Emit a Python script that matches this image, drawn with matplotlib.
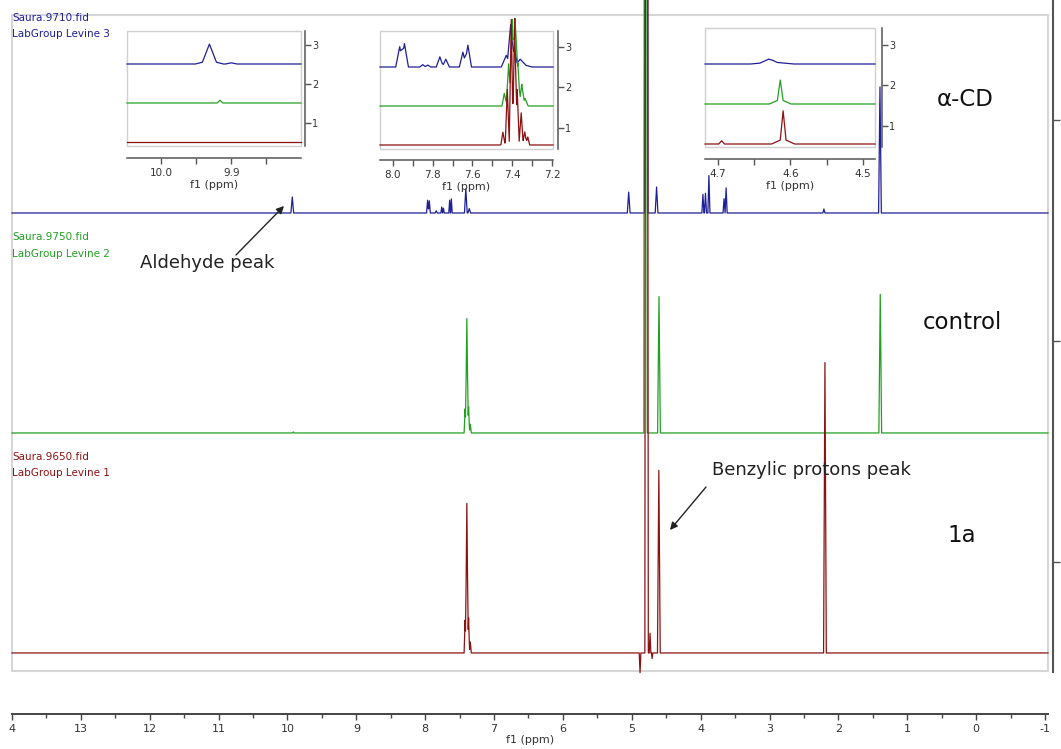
import numpy as np
import matplotlib
matplotlib.use("Agg")
import matplotlib.pyplot as plt
from matplotlib.patches import Rectangle

W, H = 1061, 749

# spectrum colours
blue = "#1f1f96"
green = "#22a022"
red = "#8c1212"

# stacked offsets of the three spectra (red = 1a, green = control, blue = a-CD)
offsets = {"blue": 2.0, "green": 1.0, "red": 0.0}

# main spectrum peaks: (ppm, height, half base width)
# heights are in units of the spacing between stacked traces
blue_peaks = [
    (9.93, 0.073, 0.02),
    (7.965, 0.058, 0.015), (7.94, 0.055, 0.015), (7.84, 0.010, 0.015),
    (7.76, 0.027, 0.012), (7.735, 0.022, 0.012),
    (7.645, 0.058, 0.012), (7.62, 0.064, 0.012),
    (7.41, 0.11, 0.02), (7.36, 0.02, 0.02),
    (5.045, 0.095, 0.02), (4.79, 10.0, 0.025), (4.64, 0.118, 0.02),
    (3.967, 0.085, 0.015), (3.93, 0.09, 0.015), (3.88, 0.17, 0.015),
    (3.66, 0.065, 0.015), (3.63, 0.114, 0.015),
    (2.21, 0.018, 0.015), (1.396, 0.573, 0.02),
]
green_peaks = [
    (9.916, 0.005, 0.01),
    (7.42, 0.11, 0.015), (7.395, 0.52, 0.02), (7.37, 0.12, 0.015), (7.345, 0.04, 0.015),
    (4.80, 10.0, 0.025), (4.605, 0.62, 0.02), (1.392, 0.63, 0.02),
]
red_peaks = [
    (7.42, 0.15, 0.015), (7.395, 0.68, 0.02), (7.37, 0.16, 0.015), (7.345, 0.05, 0.015),
    (4.88, -0.09, 0.012), (4.785, 10.0, 0.025), (4.735, 0.09, 0.012), (4.705, -0.025, 0.01),
    (4.607, 0.83, 0.02), (2.195, 1.32, 0.02),
]

main_ticks = list(range(14, -2, -1))
main_tick_labels = ["4", "13", "12", "11", "10", "9", "8", "7", "6", "5", "4", "3", "2", "1", "0", "-1"]
main_minor = [t - 0.5 for t in main_ticks[:-1]]

# inset 1: aldehyde region
in1_blue = [(9.931, 0.42, 0.010), (9.931, 0.09, 0.02), (9.90, 0.03, 0.008)]
in1_green = [(9.916, 0.07, 0.004)]
in1_red = []
in1_ticks = [10.0, 9.9]
in1_minor = [9.95, 9.85]

# inset 2: aromatic region
in2_blue = [
    (7.966, 0.52, 0.02), (7.942, 0.60, 0.02),
    (7.85, 0.06, 0.015), (7.825, 0.05, 0.015),
    (7.764, 0.26, 0.018), (7.734, 0.20, 0.018),
    (7.648, 0.38, 0.018), (7.623, 0.56, 0.018),
    (7.43, 0.30, 0.025), (7.408, 1.05, 0.015), (7.39, 0.5, 0.015),
    (7.36, 0.20, 0.03), (7.33, 0.04, 0.03),
]
in2_green = [
    (7.44, 0.30, 0.012), (7.418, 1.0, 0.012), (7.40, 2.1, 0.012), (7.385, 2.1, 0.012),
    (7.372, 1.0, 0.012), (7.352, 0.50, 0.012), (7.335, 0.18, 0.015), (7.39, 0.15, 0.06),
]
in2_red = [
    (7.447, 0.30, 0.01), (7.425, 1.35, 0.01), (7.405, 3.1, 0.01), (7.388, 3.1, 0.01),
    (7.375, 1.3, 0.01), (7.355, 0.75, 0.01), (7.337, 0.30, 0.01), (7.322, 0.2, 0.01),
    (7.39, 0.15, 0.07),
]
in2_ticks = [8.0, 7.8, 7.6, 7.4, 7.2]
in2_minor = [7.9, 7.7, 7.5, 7.3]

# inset 3: benzylic region
in3_blue = [(4.630, 0.08, 0.012), (4.625, 0.05, 0.03)]
in3_green = [(4.614, 0.48, 0.004), (4.614, 0.12, 0.015)]
in3_red = [(4.610, 0.70, 0.004), (4.610, 0.13, 0.016), (4.695, 0.08, 0.004)]
in3_ticks = [4.7, 4.6, 4.5]
in3_minor = [4.65, 4.55]


def trace(peaks, lo, hi):
    # sum of triangular lines, evaluated at every break point
    xs = [lo, hi]
    for c, h, w in peaks:
        xs += [c - w, c, c + w]
    xs = np.unique(np.clip(xs, lo, hi))
    ys = np.zeros_like(xs)
    for c, h, w in peaks:
        ys += h * np.clip(1 - np.abs(xs - c) / w, 0, None)
    return xs, ys


def fx(x):
    return x / W


def fy(y):
    return 1 - y / H


fig = plt.figure(figsize=(W / 100, H / 100), dpi=100)

# main stacked spectrum
ax = fig.add_axes([fx(12), 1 - 671 / H, (1048 - 12) / W, (671 - 15) / H])
ax.set_xlim(14, -1.044)
ax.set_ylim(-0.082, 2.9)
for name, peaks, col in [("blue", blue_peaks, blue), ("green", green_peaks, green), ("red", red_peaks, red)]:
    xs, ys = trace(peaks, -1.044, 14)
    ax.plot(xs, ys + offsets[name], color=col, lw=0.9, clip_on=False)

for s in ["top", "left", "right"]:
    ax.spines[s].set_visible(False)
ax.spines["bottom"].set_position(("outward", 31))
ax.spines["bottom"].set_color("#444444")
ax.spines["bottom"].set_linewidth(1.4)
ax.add_patch(Rectangle((0, 0), 1, 1, transform=ax.transAxes, fill=False,
                       ec="#d6d6d6", lw=1.5, clip_on=False))
ax.set_yticks([])
ax.set_xticks(main_ticks, main_tick_labels)
ax.set_xticks(main_minor, minor=True)
ax.tick_params(axis="x", which="major", length=4, width=1, color="#444444",
               labelsize=8, pad=3, labelcolor="#333333")
ax.tick_params(axis="x", which="minor", length=3, width=1, color="#444444")
ax.set_xlabel("f1 (ppm)", fontsize=8, labelpad=1, color="#333333")

# right-hand offset scale of the main plot (its labels fall off the edge)
axr = fig.add_axes([fx(1052), 1 - 672 / H, 1 / W, 672 / H])
axr.patch.set_visible(False)
for s in ["top", "left", "bottom"]:
    axr.spines[s].set_visible(False)
axr.spines["right"].set_color("#555555")
axr.spines["right"].set_linewidth(1.5)
axr.set_ylim(0.502, 3.543)
axr.set_xticks([])
axr.set_yticks([1, 2, 3])
axr.tick_params(axis="y", left=False, labelleft=False, right=True, labelright=False,
                length=5, width=1, color="#555555")


def inset(box, xlim, ylim, rlim, ticks, minor, traces, out_b, out_r):
    x0, y0, x1, y1 = box
    a = fig.add_axes([fx(x0), 1 - y1 / H, (x1 - x0) / W, (y1 - y0) / H])
    a.set_xlim(*xlim)
    a.set_ylim(*ylim)
    lo, hi = min(xlim), max(xlim)
    for name, peaks, col in traces:
        xs, ys = trace(peaks, lo, hi)
        a.plot(xs, ys + offsets[name], color=col, lw=0.9, clip_on=False)
    for s in ["top", "left", "right"]:
        a.spines[s].set_visible(False)
    a.spines["bottom"].set_position(("outward", out_b))
    a.spines["bottom"].set_color("#555555")
    a.spines["bottom"].set_linewidth(1.1)
    a.add_patch(Rectangle((0, 0), 1, 1, transform=a.transAxes, fill=False,
                          ec="#d0d0d0", lw=1.0, clip_on=False))
    a.set_yticks([])
    a.set_xticks(ticks, [f"{t:.1f}" for t in ticks])
    a.set_xticks(minor, minor=True)
    a.tick_params(axis="x", which="both", length=4, width=1, color="#555555",
                  labelsize=7.5, pad=3, labelcolor="#333333")
    a.set_xlabel("f1 (ppm)", fontsize=8, labelpad=2, color="#333333")
    r = a.twinx()
    for s in ["top", "left", "bottom"]:
        r.spines[s].set_visible(False)
    r.spines["right"].set_position(("outward", out_r))
    r.spines["right"].set_color("#555555")
    r.spines["right"].set_linewidth(1.1)
    r.set_ylim(*rlim)
    r.set_yticks([1, 2, 3], ["1", "2", "3"])
    r.tick_params(axis="y", length=4, width=1, color="#555555", labelsize=7,
                  pad=1, labelcolor="#333333")
    return a


inset((127, 31, 301, 146), (10.048, 9.801), (-0.103, 2.846), (0.41, 3.36),
      in1_ticks, in1_minor,
      [("blue", in1_blue, blue), ("green", in1_green, green), ("red", in1_red, red)], 8.6, 2.9)
inset((380, 31, 553, 149), (8.065, 7.195), (-0.103, 2.923), (0.481, 3.395),
      in2_ticks, in2_minor,
      [("blue", in2_blue, blue), ("green", in2_green, green), ("red", in2_red, red)], 7.9, 3.6)
inset((705, 28, 875, 147), (4.718, 4.483), (-0.075, 2.9), (0.481, 3.42),
      in3_ticks, in3_minor,
      [("blue", in3_blue, blue), ("green", in3_green, green), ("red", in3_red, red)], 8.6, 5.0)

# trace names
for y1, y2, t1, t2, col in [(18, 34, "Saura.9710.fid", "LabGroup Levine 3", blue),
                            (237, 254, "Saura.9750.fid", "LabGroup Levine 2", green),
                            (457, 473, "Saura.9650.fid", "LabGroup Levine 1", red)]:
    fig.text(fx(12), fy(y1), t1, color=col, fontsize=7.5, va="center", ha="left")
    fig.text(fx(12), fy(y2), t2, color=col, fontsize=7.5, va="center", ha="left")

fig.text(fx(965), fy(100), "α-CD", fontsize=16.5, ha="center", va="center", color="#111111")
fig.text(fx(962), fy(322), "control", fontsize=16.5, ha="center", va="center", color="#111111")
fig.text(fx(962), fy(535), "1a", fontsize=16.5, ha="center", va="center", color="#111111")

fig.text(fx(207), fy(263), "Aldehyde peak", fontsize=13, ha="center", va="center", color="#222222")
fig.text(fx(811), fy(470), "Benzylic protons peak", fontsize=13, ha="center", va="center", color="#222222")
arrow = dict(arrowstyle="-|>", color="#222222", lw=1.0, mutation_scale=11, shrinkA=0, shrinkB=0)
ax.annotate("", xy=(fx(284), fy(206)), xycoords="figure fraction",
            xytext=(fx(236), fy(255)), textcoords="figure fraction", arrowprops=arrow)
ax.annotate("", xy=(fx(670), fy(530)), xycoords="figure fraction",
            xytext=(fx(706), fy(487)), textcoords="figure fraction", arrowprops=arrow)

fig.savefig("out.png", dpi=100)
